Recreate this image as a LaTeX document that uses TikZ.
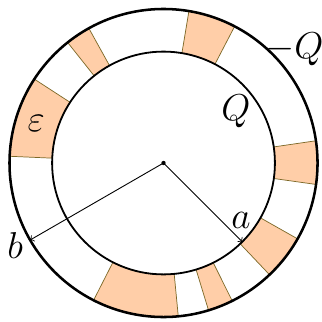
\documentclass[tikz,border=0pt]{standalone}
\usepackage{amsmath}
\definecolor{slabfill}{RGB}{255,206,168}
\definecolor{slabedge}{RGB}{125,105,40}
\tikzset{
  slab/.style={fill=slabfill, draw=slabedge, line width=0.4pt},
  lbl/.style={font=\huge, inner sep=0pt}
}
\begin{document}
\begin{tikzpicture}
            \useasboundingbox (-3.185,-3.097) rectangle (3.068,3.175);
            % dielectric slabs between the plates
            \draw[slab] (119:2.17) arc (119:128.5:2.17) -- (128.5:3) arc (128.5:119:3) -- cycle;
            \draw[slab] (62.5:2.17) arc (62.5:80.5:2.17) -- (80.5:3) arc (80.5:62.5:3) -- cycle;
            \draw[slab] (-8:2.17) arc (-8:8.3:2.17) -- (8.3:3) arc (8.3:-8:3) -- cycle;
            \draw[slab] (-46.5:2.17) arc (-46.5:-29.5:2.17) -- (-29.5:3) arc (-29.5:-46.5:3) -- cycle;
            \draw[slab] (-73:2.17) arc (-73:-63.5:2.17) -- (-63.5:3) arc (-63.5:-73:3) -- cycle;
            \draw[slab] (-117:2.17) arc (-117:-84.5:2.17) -- (-84.5:3) arc (-84.5:-117:3) -- cycle;
            \draw[slab] (147:2.17) arc (147:177.5:2.17) -- (177.5:3) arc (177.5:147:3) -- cycle;
            % plates
            \draw[line width=1.4pt] (0,0) circle (3);
            \draw[line width=1pt] (0,0) circle (2.17);
            % radii
            \coordinate (O) at (0,0);
            \coordinate (B) at (210:3);
            \coordinate (A) at (-45:2.17);
            \draw[->, line width=0.5pt] (O) -- (B);
            \draw[->, line width=0.5pt] (O) -- (A);
            \fill (O) circle (1.2pt);
            \node[lbl] (lb) at (-2.89,-1.60) {$b$};
            \node[lbl] (la) at (1.51,-1.12) {$a$};
            \node[lbl] (lq) at (1.41,1.0) {$Q$};
            \node[lbl] (lmq) at (2.55,2.22) {$-Q$};
            \node[lbl] (leps) at (-2.48,0.77) {$\varepsilon$};
        \end{tikzpicture}
\end{document}
